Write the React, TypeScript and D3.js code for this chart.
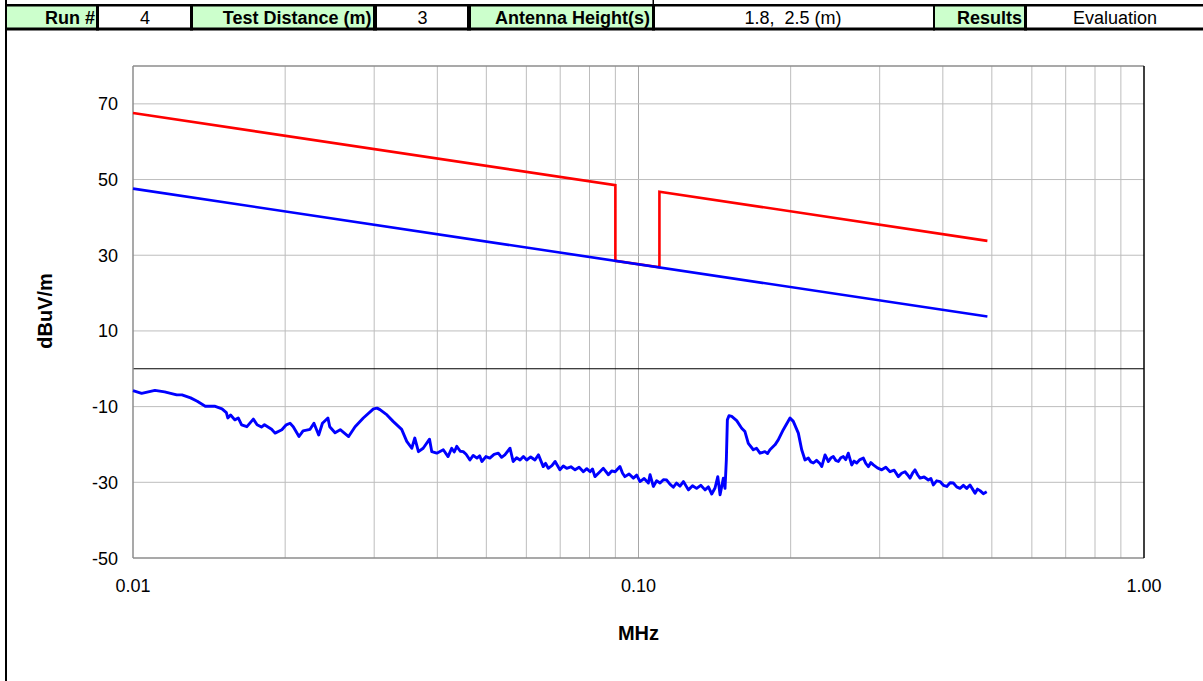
import React from 'react';
import * as d3 from 'd3';

// Measured emission trace (kHz, dBuV/m)
const freqKHz = [
  10, 10.4, 11.05, 11.55, 12.2, 12.5, 13.0, 13.4, 13.9, 14.5, 15.0, 15.3, 15.4, 15.6, 15.9, 16.15, 16.4, 16.8, 17.3, 17.6,
  17.95, 18.2, 18.8, 19.1, 19.7, 20.1, 20.45, 20.75, 21.3,
  21.7, 22.4, 22.8, 23.3, 23.7, 24.3, 24.5, 25.1, 25.7, 26.7, 27.5, 28.55, 29.9, 30.4, 30.8, 31.8, 32.7, 34.0, 34.8, 35.6,
  36.1, 36.7, 37.5, 38.6, 39.0, 39.9, 41.1, 42.0,
  42.7, 43.2, 43.7, 44.4, 45.0, 45.6, 46.4, 47.1, 47.9, 48.5, 49.0, 49.9, 50.8, 51.8, 52.8, 53.6, 54.4, 55.7, 56.5, 57.4,
  58.3, 59.2, 60.1, 61.2, 62.4, 63.4, 64.8, 65.5, 66.3, 67.4, 68.4, 69.9, 71.0, 72.1, 73.5, 74.9, 76.3, 77.8, 79.0, 80.2,
  81.1, 82.0, 83.6, 85.2, 87.2, 88.5, 89.9, 91.9, 93.0, 94.0, 95.8, 97.7, 99.2, 100.7, 102.6, 104.6, 105.4, 107.0, 108.6,
  110.3, 112.0, 113.7, 115.4, 117.2, 118.9, 120.8, 122.7, 125.5, 127.9, 130.3, 132.8, 135.4, 137.5, 139.6, 141.7, 143.5,
  145.0, 147.2, 148.3, 149.2, 149.9, 151.0, 152.9, 156.4,
  160.0, 162.4, 164.9, 168.7, 171.2, 173.9, 177.9, 180.0, 182.0, 186.2, 189.0, 193.4, 199.4, 202.4, 207.1, 210.3, 213.5,
  216.8, 219.3, 221.8, 225.0, 228.7, 230.4, 233.9, 237.5, 240.1, 242.9, 245.6, 248.5, 251.3, 254.2, 257.0, 260.0, 264.1,
  267.0, 270.2, 274.2, 278.5, 281.6, 284.9, 288.2, 291.5, 296.9, 302.8, 308.5, 314.5, 320.5, 326.6, 331.6, 336.7, 340.5,
  344.5, 348.4, 352.4, 356.5, 360.5, 367.3, 374.4, 378.8, 383.1, 388.9, 394.9, 401.0, 407.2, 413.4, 419.6, 426.0, 432.5,
  439.2, 445.9, 452.7, 458.0, 463.2, 468.5, 473.8, 481.0, 488.5,
];
const levelDb = [
  -5.8, -6.5, -5.7, -6.1, -6.9, -6.9, -7.7, -8.6, -9.9, -9.9, -10.6, -11.6, -13.0, -12.2, -13.5, -13.0, -14.8, -15.3, -13.3, -14.8,
  -15.4, -14.8, -16.0, -17.0, -16.1, -14.8, -14.4, -15.3, -17.9,
  -16.4, -16.0, -14.4, -17.5, -14.4, -13.0, -15.3, -16.9, -16.1, -17.9, -15.3, -13.0, -10.6, -10.4, -10.8, -12.2, -13.9, -16.0, -19.2, -21.0,
  -18.3, -21.9, -21.0, -18.6, -21.9, -22.3, -21.4, -23.2,
  -21.0, -22.0, -20.5, -21.8, -21.9, -22.6, -24.1, -22.9, -23.6, -23.0, -24.5, -23.2, -23.6, -22.6, -22.3, -23.4, -22.75, -21.0, -24.5, -23.5,
  -24.1, -23.2, -24.1, -23.3, -24.1, -22.75, -25.85, -25.0, -26.3, -25.6, -24.5, -26.7, -25.7, -26.3, -25.9, -26.7, -26.0, -27.2, -26.4, -27.2,
  -26.5, -28.5, -27.4, -26.3, -28.0, -27.0, -27.2, -25.85, -27.6, -28.5, -27.8, -28.9, -28.1, -29.8, -29.0, -30.2, -28.0, -31.1, -29.6,
  -30.2, -29.3, -29.4, -30.5, -31.3, -30.2, -31.0, -29.8, -32.0, -30.9, -31.6, -30.8, -32.0, -31.2, -33.1, -31.5, -28.5,
  -33.3, -28.9, -31.6, -24.1, -13.5, -12.4, -12.6, -13.7,
  -15.7, -16.6, -19.7, -21.4, -21.0, -22.3, -21.9, -22.4, -21.4, -20.1, -18.8, -16.1, -13.0, -13.9, -17.0, -21.4, -24.1,
  -23.6, -24.6, -24.9, -24.2, -25.1, -25.85, -22.75, -24.5, -23.6, -23.2, -24.2, -24.5, -23.5, -23.2, -24.0, -22.3, -25.4,
  -24.4, -24.9, -24.0, -23.6, -25.0, -25.85, -24.8, -25.4, -26.2, -26.7, -26.0, -27.2, -26.8, -28.5, -27.6, -27.2, -28.0,
  -28.9, -27.6, -26.7, -28.0, -28.9, -28.6, -29.4, -29.0, -30.7, -29.6, -29.8, -30.8, -31.1, -30.1, -30.2, -31.2, -31.6,
  -30.8, -31.6, -30.7, -31.8, -32.9, -31.8, -32.2, -33.0, -32.5,
];

// Limit lines
const peakLimitFreqMHz = [0.01, 0.09, 0.09, 0.11, 0.11, 0.49];
const peakLimitDb = [67.6, 48.5, 28.5, 26.8, 46.8, 33.8];
const avgLimitFreqMHz = [0.01, 0.49];
const avgLimitDb = [47.6, 13.8];

// Axes
const yTickValues = [-50, -30, -10, 10, 30, 50, 70];
const xTickValues = [0.01, 0.1, 1];
const xTickLabels = ['0.01', '0.10', '1.00'];
const xAxisTitle = 'MHz';
const yAxisTitle = 'dBuV/m';

// Header table
const headerTexts = ['Run #', '4', 'Test Distance (m)', '3', 'Antenna Height(s)', '1.8,  2.5 (m)', 'Results', 'Evaluation'];
const headerIsLabel = [true, false, true, false, true, false, true, false];

const FONT = '"Liberation Sans", Arial, Helvetica, sans-serif';

export default function App() {
  const W = 1203, H = 681;
  const L = 133, R = 1144, T = 66, B = 558;
  const x = d3.scaleLog().domain([0.01, 1]).range([L, R]);
  const y = d3.scaleLinear().domain([-50, 80]).range([B, T]);

  const line = d3.line<[number, number]>().x(d => x(d[0])).y(d => y(d[1]));
  const measured: [number, number][] = freqKHz.map((f, i) => [f / 1000, levelDb[i]]);
  const peak: [number, number][] = peakLimitFreqMHz.map((f, i) => [f, peakLimitDb[i]]);
  const avg: [number, number][] = avgLimitFreqMHz.map((f, i) => [f, avgLimitDb[i]]);

  const vGrid = x.ticks().filter(t => t > 0.0100001 && t < 0.99999);
  const hGrid = yTickValues.filter(v => v > -50);

  // header layout (cell edges, separators)
  const cellEdges = [7, 99, 193, 377, 471, 655, 935, 1027, 1203];
  const sepRects = [[96, 3], [190, 3], [373, 4], [467, 4], [652, 3], [933, 2], [1024, 3]];
  const labelRight = [95, 0, 371.5, 0, 650, 0, 1022, 0];
  const valueCenter = [0, 145, 0, 422.5, 0, 793, 0, 1115];

  return (
    <svg width={W} height={H} style={{ position: 'absolute', left: 0, top: 0, background: '#fff' }} fontFamily={FONT}>
      <rect x={0} y={0} width={W} height={H} fill="#fff" />
      {/* header row */}
      {headerTexts.map((t, i) => (
        <rect key={'c' + i} x={cellEdges[i]} y={6} width={cellEdges[i + 1] - cellEdges[i]} height={22}
          fill={headerIsLabel[i] ? '#CCFFCC' : '#FFFFFF'} />
      ))}
      <rect x={5} y={4} width={W - 5} height={2.5} fill="#000" />
      <rect x={5} y={27.5} width={W - 5} height={3} fill="#000" />
      {sepRects.map((s, i) => (
        <rect key={'s' + i} x={s[0]} y={4} width={s[1]} height={26.5} fill="#000" />
      ))}
      <rect x={652.5} y={0} width={1.5} height={5} fill="#000" />
      <rect x={5} y={0} width={2} height={H} fill="#000" />
      {headerTexts.map((t, i) => (
        <text key={'t' + i}
          x={headerIsLabel[i] ? labelRight[i] : valueCenter[i]} y={24}
          textAnchor={headerIsLabel[i] ? 'end' : 'middle'}
          fontSize={18} fontWeight={headerIsLabel[i] ? 'bold' : 'normal'}
          style={{ whiteSpace: 'pre' }} fill="#000">{t}</text>
      ))}

      {/* grid */}
      {vGrid.map((v, i) => (
        <line key={'vg' + i} x1={x(v)} x2={x(v)} y1={T} y2={B}
          stroke={Math.abs(v - 0.1) < 1e-9 ? '#A8A8A8' : '#BDBDBD'} strokeWidth={1} />
      ))}
      {hGrid.map((v, i) => (
        <line key={'hg' + i} x1={L} x2={R} y1={y(v)} y2={y(v)} stroke="#BDBDBD" strokeWidth={1} />
      ))}
      {/* zero line */}
      <line x1={L} x2={R} y1={y(0)} y2={y(0)} stroke="#000" strokeWidth={1.2} />
      {/* frame */}
      <line x1={L} x2={R} y1={T} y2={T} stroke="#8C8C8C" strokeWidth={1.5} />
      <line x1={L} x2={R} y1={B} y2={B} stroke="#8C8C8C" strokeWidth={1.5} />
      <line x1={L} x2={L} y1={T} y2={B} stroke="#8C8C8C" strokeWidth={1.5} />
      <line x1={R} x2={R} y1={T} y2={B} stroke="#000" strokeWidth={1.5} />

      {/* limit lines */}
      <path d={line(peak) || ''} fill="none" stroke="#FF0000" strokeWidth={2.6} strokeLinejoin="miter" />
      <path d={line(avg) || ''} fill="none" stroke="#0000FF" strokeWidth={2.6} />
      {/* measured trace */}
      <path d={line(measured) || ''} fill="none" stroke="#0000FF" strokeWidth={2.9} strokeLinejoin="round" />

      {/* y tick labels */}
      {yTickValues.map((v, i) => (
        <text key={'yt' + i} x={118} y={y(v) + 6.5} textAnchor="end" fontSize={18} fill="#000">{v}</text>
      ))}
      {/* x tick labels */}
      {xTickValues.map((v, i) => (
        <text key={'xt' + i} x={x(v)} y={592} textAnchor="middle" fontSize={18} fill="#000">{xTickLabels[i]}</text>
      ))}
      {/* axis titles */}
      <text x={(L + R) / 2} y={640} textAnchor="middle" fontSize={20} fontWeight="bold" fill="#000">{xAxisTitle}</text>
      <text transform={`translate(52, ${311}) rotate(-90)`} textAnchor="middle" fontSize={20} fontWeight="bold" fill="#000">{yAxisTitle}</text>
    </svg>
  );
}
